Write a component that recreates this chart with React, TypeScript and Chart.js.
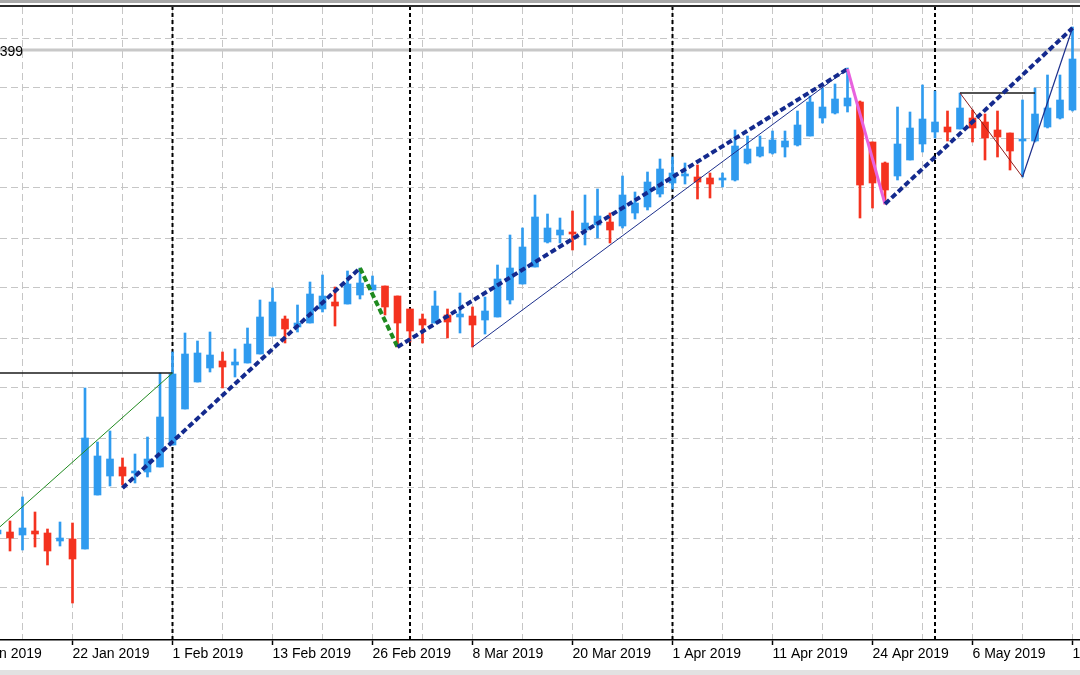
import React, { useEffect, useRef } from 'react';
import { Chart, registerables } from 'chart.js';

Chart.register(...registerables);

// Bar index of the first candle drawn (bar 0 = 22 Jan 2019)
const FIRST_BAR = -6;

const OPEN = [
  1.0915, 1.0917, 1.0914, 1.0918, 1.0916, 1.0908, 1.0910, 1.0900, 1.0954, 1.0973,
  1.0982, 1.0976, 1.0977, 1.0982, 1.1004, 1.1040, 1.1067, 1.1081, 1.1088, 1.1084,
  1.1086, 1.1095, 1.1113, 1.1130, 1.1122, 1.1126, 1.1140, 1.1147, 1.1145, 1.1154,
  1.1159, 1.1163, 1.1153, 1.1140, 1.1130, 1.1126, 1.1134, 1.1132, 1.1133, 1.1129,
  1.1132, 1.1149, 1.1165, 1.1182, 1.1207, 1.1214, 1.1217, 1.1219, 1.1224, 1.1227,
  1.1223, 1.1236, 1.1242, 1.1255, 1.1266, 1.1273, 1.1272, 1.1271, 1.1269, 1.1269,
  1.1286, 1.1293, 1.1296, 1.1302, 1.1304, 1.1313, 1.1331, 1.1336, 1.1343, 1.1347,
  1.1307, 1.1286, 1.1273, 1.1289, 1.1305, 1.1317, 1.1322, 1.1320, 1.1331, 1.1327,
  1.1319, 1.1316, 1.1308, 1.1308, 1.1322, 1.1331, 1.1339,
];
const HIGH = [
  1.0923, 1.0928, 1.0952, 1.0937, 1.0920, 1.0927, 1.0926, 1.1061, 1.1007, 1.1018,
  1.0991, 1.0995, 1.1012, 1.1076, 1.1097, 1.1116, 1.1108, 1.1117, 1.1097, 1.1100,
  1.1121, 1.1149, 1.1161, 1.1133, 1.1144, 1.1167, 1.1174, 1.1162, 1.1178, 1.1181,
  1.1173, 1.1163, 1.1153, 1.1140, 1.1135, 1.1158, 1.1140, 1.1156, 1.1142, 1.1152,
  1.1184, 1.1214, 1.1221, 1.1254, 1.1235, 1.1231, 1.1238, 1.1254, 1.1260, 1.1236,
  1.1273, 1.1257, 1.1277, 1.1290, 1.1292, 1.1286, 1.1284, 1.1276, 1.1276, 1.1319,
  1.1313, 1.1313, 1.1318, 1.1318, 1.1338, 1.1353, 1.1361, 1.1365, 1.1381, 1.1348,
  1.1307, 1.1287, 1.1342, 1.1337, 1.1364, 1.1358, 1.1338, 1.1356, 1.1339, 1.1335,
  1.1338, 1.1316, 1.1349, 1.1361, 1.1374, 1.1374, 1.1422,
];
const LOW = [
  1.0911, 1.0898, 1.0899, 1.0902, 1.0884, 1.0903, 1.0846, 1.0900, 1.0954, 1.0963,
  1.0964, 1.0966, 1.0972, 1.0982, 1.1004, 1.1040, 1.1067, 1.1077, 1.1061, 1.1072,
  1.1086, 1.1095, 1.1113, 1.1106, 1.1117, 1.1126, 1.1137, 1.1123, 1.1145, 1.1150,
  1.1159, 1.1134, 1.1102, 1.1107, 1.1106, 1.1126, 1.1111, 1.1116, 1.1102, 1.1115,
  1.1132, 1.1145, 1.1165, 1.1182, 1.1206, 1.1206, 1.1199, 1.1204, 1.1211, 1.1206,
  1.1221, 1.1230, 1.1239, 1.1252, 1.1260, 1.1265, 1.1250, 1.1251, 1.1262, 1.1268,
  1.1285, 1.1292, 1.1295, 1.1292, 1.1303, 1.1313, 1.1326, 1.1335, 1.1337, 1.1231,
  1.1241, 1.1245, 1.1269, 1.1289, 1.1297, 1.1311, 1.1308, 1.1320, 1.1307, 1.1289,
  1.1292, 1.1279, 1.1272, 1.1307, 1.1321, 1.1330, 1.1338,
];
const CLOSE = [
  1.0919, 1.0911, 1.0921, 1.0915, 1.0898, 1.0911, 1.0890, 1.1011, 1.0993, 1.0990,
  1.0973, 1.0978, 1.0990, 1.1032, 1.1075, 1.1095, 1.1096, 1.1094, 1.1082, 1.1087,
  1.1105, 1.1132, 1.1147, 1.1120, 1.1126, 1.1155, 1.1153, 1.1143, 1.1165, 1.1166,
  1.1164, 1.1142, 1.1126, 1.1118, 1.1124, 1.1143, 1.1127, 1.1135, 1.1124, 1.1138,
  1.1170, 1.1181, 1.1202, 1.1232, 1.1221, 1.1219, 1.1215, 1.1226, 1.1233, 1.1219,
  1.1254, 1.1246, 1.1267, 1.1280, 1.1276, 1.1275, 1.1267, 1.1265, 1.1270, 1.1303,
  1.1300, 1.1302, 1.1309, 1.1308, 1.1324, 1.1347, 1.1342, 1.1350, 1.1351, 1.1264,
  1.1266, 1.1259, 1.1305, 1.1321, 1.1330, 1.1327, 1.1317, 1.1341, 1.1321, 1.1311,
  1.1312, 1.1298, 1.1309, 1.1335, 1.1341, 1.1349, 1.1390,
];

// Time axis: grid every 4 bars, dated labels every 8 bars
const GRID_BARS = [-8, -4, 0, 4, 8, 12, 16, 20, 24, 28, 32, 36, 40, 44, 48, 52, 56, 60, 64, 68, 72, 76, 80];
const LABEL_BARS = [-8, 0, 8, 16, 24, 32, 40, 48, 56, 64, 72, 80];
const DATE_LABELS = [
  '9 Jan 2019', '22 Jan 2019', '1 Feb 2019', '13 Feb 2019', '26 Feb 2019', '8 Mar 2019',
  '20 Mar 2019', '1 Apr 2019', '11 Apr 2019', '24 Apr 2019', '6 May 2019', '16 May 2019',
];
// Monthly period separators (first bar of Feb, Mar, Apr, May)
const SEPARATOR_BARS = [8, 27, 48, 69];

// Price grid levels
const PRICE_GRID = [1.0861, 1.0911, 1.0961, 1.1011, 1.1061, 1.1111, 1.1161, 1.1211, 1.1261, 1.1311, 1.1361, 1.1411];
const PRICE_MIN = 1.0809;
const PRICE_MAX = 1.1442;
const X_MIN = -5.8;
const X_MAX = 80.6;

// Horizontal price line
const PRICE_LINE = 1.1399;
const PRICE_LINE_LABEL = '1.1399';

// ZigZag (thick)
const ZZ_BARS = [4, 23, 26, 62, 65, 80];
const ZZ_PRICES = [1.0961, 1.1181, 1.1102, 1.1380, 1.1245, 1.1421];

// Thin drawn lines
const LEFT_LEVEL_BARS = [-6, 8];
const LEFT_LEVEL_PRICES = [1.1076, 1.1076];
const GREEN_TREND_BARS = [-6, 8];
const GREEN_TREND_PRICES = [1.0920, 1.1076];
const NAVY_THIN_BARS = [32, 62, 65];
const NAVY_THIN_PRICES = [1.1102, 1.1380, 1.1245];
const RIGHT_LEVEL_BARS = [71, 77];
const RIGHT_LEVEL_PRICES = [1.1356, 1.1356];
const BROWN_BARS = [71, 76];
const BROWN_PRICES = [1.1356, 1.1272];
const NAVY_RIGHT_BARS = [76, 80];
const NAVY_RIGHT_PRICES = [1.1272, 1.1421];

const BLUE = '#2f9bef';
const RED = '#f4321f';
const NAVY = '#142a8e';
const GRID = '#c6c6c6';
const FONT = 'Liberation Sans';

const pts = (xs: number[], ys: number[]) => xs.map((x, i) => ({ x, y: ys[i] }));

const framePlugin = {
  id: 'frame',
  beforeDraw(chart: any) {
    const { ctx, width, height } = chart;
    ctx.save();
    ctx.fillStyle = '#ffffff';
    ctx.fillRect(0, 0, width, height);
    ctx.restore();
  },
  afterDraw(chart: any) {
    const { ctx, width, height } = chart;
    const ys = chart.scales.y;
    ctx.save();
    // top frame
    ctx.fillStyle = '#a8a8a8';
    ctx.fillRect(0, 0, width, 3);
    ctx.fillStyle = '#2c2c2c';
    ctx.fillRect(0, 5, width, 2);
    // bottom strip
    ctx.fillStyle = '#e2e2e2';
    ctx.fillRect(0, height - 5, width, 5);
    // price line label
    ctx.fillStyle = '#000';
    ctx.font = `14px "${FONT}"`;
    ctx.textAlign = 'right';
    ctx.textBaseline = 'middle';
    ctx.fillText(PRICE_LINE_LABEL, 23, ys.getPixelForValue(PRICE_LINE) + 2);
    ctx.restore();
  },
};

export default function App() {
  const ref = useRef<HTMLCanvasElement | null>(null);

  useEffect(() => {
    const canvas = ref.current;
    if (!canvas) return;
    const bars = OPEN.map((_, i) => FIRST_BAR + i);
    const colors = OPEN.map((o, i) => (CLOSE[i] >= o ? BLUE : RED));

    const separatorSets = SEPARATOR_BARS.map((b) => ({
      type: 'line' as const,
      data: [{ x: b, y: PRICE_MIN }, { x: b, y: PRICE_MAX }],
      borderColor: '#000',
      borderWidth: 2,
      borderDash: [4, 3],
      pointRadius: 0,
      fill: false,
      order: 20,
    }));

    const chart = new Chart(canvas, {
      type: 'bar',
      data: {
        datasets: [
          {
            type: 'line',
            data: pts(ZZ_BARS, ZZ_PRICES),
            borderColor: NAVY,
            borderWidth: 4,
            borderDash: [6, 3],
            pointRadius: 0,
            fill: false,
            order: 0,
            segment: {
              borderColor: (c: any) =>
                c.p0DataIndex === 1 ? '#1f8a1f' : c.p0DataIndex === 3 ? '#e862de' : NAVY,
              borderDash: (c: any) => (c.p0DataIndex === 3 ? [] : [6, 3]),
              borderWidth: (c: any) => (c.p0DataIndex === 3 ? 3 : 4),
            },
          } as any,
          {
            type: 'line',
            data: pts(NAVY_THIN_BARS, NAVY_THIN_PRICES),
            borderColor: '#1c2f8c',
            borderWidth: 1,
            pointRadius: 0,
            fill: false,
            order: 1,
          },
          {
            type: 'line',
            data: pts(NAVY_RIGHT_BARS, NAVY_RIGHT_PRICES),
            borderColor: '#1c2f8c',
            borderWidth: 1.2,
            pointRadius: 0,
            fill: false,
            order: 1,
          },
          {
            type: 'line',
            data: pts(BROWN_BARS, BROWN_PRICES),
            borderColor: '#8e1c1c',
            borderWidth: 1,
            pointRadius: 0,
            fill: false,
            order: 1,
          },
          {
            type: 'line',
            data: pts(RIGHT_LEVEL_BARS, RIGHT_LEVEL_PRICES),
            borderColor: '#1a1a1a',
            borderWidth: 1.5,
            pointRadius: 0,
            fill: false,
            order: 1,
          },
          {
            type: 'line',
            data: pts(GREEN_TREND_BARS, GREEN_TREND_PRICES),
            borderColor: '#1f8a1f',
            borderWidth: 1,
            pointRadius: 0,
            fill: false,
            order: 1,
          },
          {
            type: 'line',
            data: pts(LEFT_LEVEL_BARS, LEFT_LEVEL_PRICES),
            borderColor: '#1a1a1a',
            borderWidth: 1.5,
            pointRadius: 0,
            fill: false,
            order: 1,
          },
          {
            type: 'bar',
            data: bars.map((x, i) => ({ x, y: [OPEN[i], CLOSE[i]] })),
            backgroundColor: colors,
            borderWidth: 0,
            barThickness: 7,
            minBarLength: 2,
            grouped: false,
            order: 5,
          } as any,
          {
            type: 'bar',
            data: bars.map((x, i) => ({ x, y: [LOW[i], HIGH[i]] })),
            backgroundColor: colors,
            borderWidth: 0,
            barThickness: 2,
            grouped: false,
            order: 6,
          } as any,
          {
            type: 'line',
            data: [{ x: X_MIN - 1, y: PRICE_LINE }, { x: X_MAX + 1, y: PRICE_LINE }],
            borderColor: '#c8c8c8',
            borderWidth: 3,
            pointRadius: 0,
            fill: false,
            order: 21,
          },
          ...separatorSets,
        ],
      },
      options: {
        responsive: false,
        devicePixelRatio: 1,
        animation: false,
        events: [],
        layout: { padding: { top: 7, left: 0, right: 0, bottom: 0 }, autoPadding: false },
        plugins: { legend: { display: false }, tooltip: { enabled: false } },
        scales: {
          x: {
            type: 'linear',
            min: X_MIN,
            max: X_MAX,
            offset: false,
            afterBuildTicks: (s: any) => {
              s.ticks = GRID_BARS.map((v) => ({ value: v }));
            },
            afterFit: (s: any) => {
              s.height = 35;
              s.paddingLeft = 0;
              s.paddingRight = 0;
            },
            grid: {
              offset: false,
              color: GRID,
              lineWidth: 1,
              drawTicks: true,
              tickLength: 5,
              tickWidth: 1.5,
              tickColor: (c: any) =>
                c.tick && LABEL_BARS.includes(c.tick.value) ? '#000' : 'rgba(0,0,0,0)',
            },
            border: { display: true, color: '#000', width: 1.5, dash: [7, 4] },
            ticks: {
              autoSkip: false,
              maxRotation: 0,
              minRotation: 0,
              align: 'start',
              padding: 1,
              color: '#000',
              font: { family: FONT, size: 14 },
              callback: (v: any) => {
                const k = LABEL_BARS.indexOf(Number(v));
                return k >= 0 ? DATE_LABELS[k] : '';
              },
            },
          } as any,
          y: {
            type: 'linear',
            min: PRICE_MIN,
            max: PRICE_MAX,
            beginAtZero: false,
            afterBuildTicks: (s: any) => {
              s.ticks = PRICE_GRID.map((v) => ({ value: v }));
            },
            afterFit: (s: any) => {
              s.width = 0;
            },
            ticks: { display: false },
            grid: { color: GRID, lineWidth: 1, drawTicks: false },
            border: { display: false, dash: [7, 4] },
          } as any,
        },
      },
      plugins: [framePlugin],
    });
    return () => chart.destroy();
  }, []);

  return (
    <div style={{ position: 'fixed', left: 0, top: 0, width: 1080, height: 675, background: '#fff' }}>
      <canvas ref={ref} width={1080} height={675} style={{ display: 'block' }} />
    </div>
  );
}
